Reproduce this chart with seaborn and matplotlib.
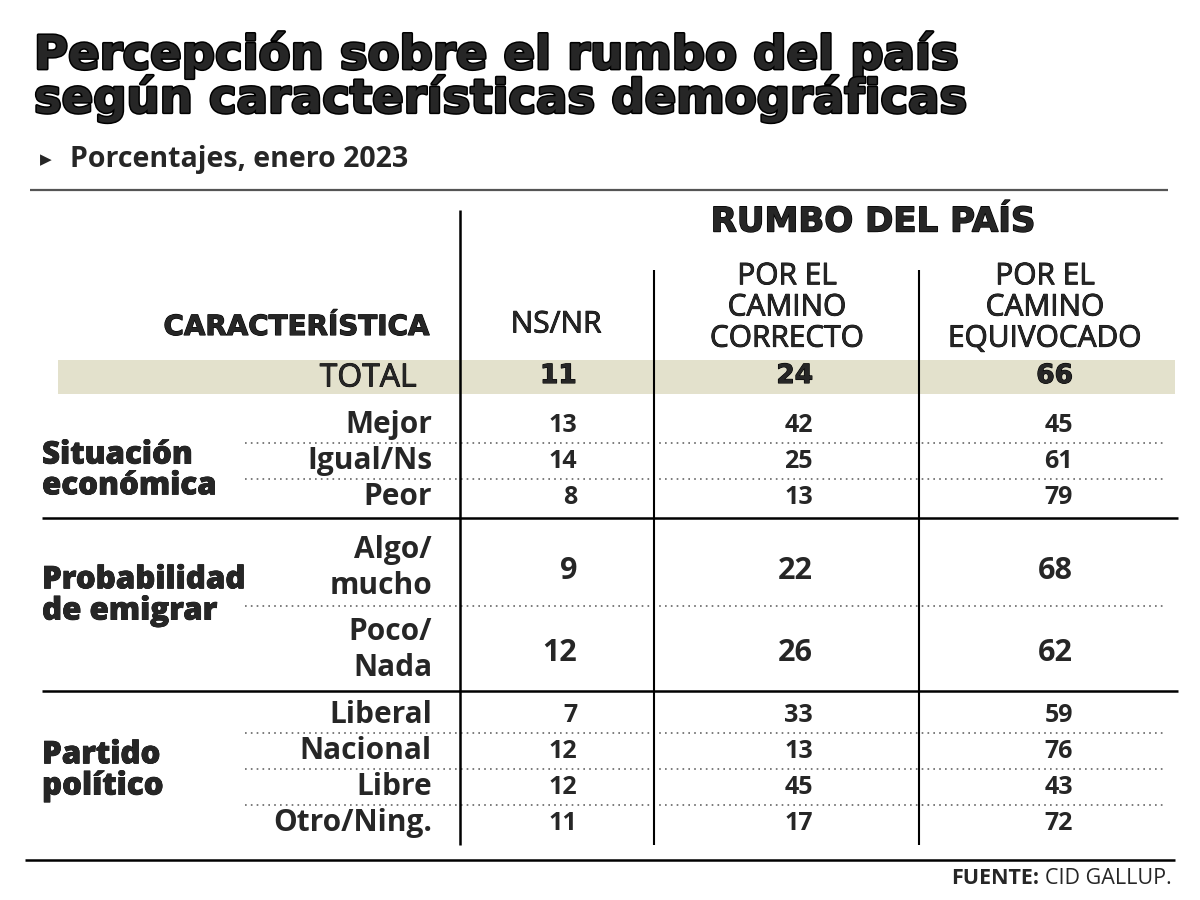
import numpy as np
import matplotlib.pyplot as plt
import matplotlib.patheffects as pe
import seaborn as sns

sns.set_theme(style="white")
plt.rcParams['font.family'] = ['Open Sans', 'DejaVu Sans']

# Data
title = "Percepción sobre el rumbo del país\nsegún características demográficas"
subtitle = "Porcentajes, enero 2023"
columns = ["NS/NR", "POR EL\nCAMINO\nCORRECTO", "POR EL\nCAMINO\nEQUIVOCADO"]
total = [11, 24, 66]
groups = ["Situación\neconómica", "Probabilidad\nde emigrar", "Partido\npolítico"]
rows = [["Mejor", "Igual/Ns", "Peor"],
        ["Algo/\nmucho", "Poco/\nNada"],
        ["Liberal", "Nacional", "Libre", "Otro/Ning."]]
ns_nr = [[13, 14, 8], [9, 12], [7, 12, 12, 11]]
correcto = [[42, 25, 13], [22, 26], [33, 13, 45, 17]]
equivocado = [[45, 61, 79], [68, 62], [59, 76, 43, 72]]

# Layout (pixels, y down)
col_right = [577, 813, 1073]
label_x = 432
row_h = [36, 82, 36]
group_dy = [10, -10, 2]
band_color = "#e3e1cc"
heavy = ["DejaVu Sans"]


def stroke(w):
    return [pe.withStroke(linewidth=w, foreground="black")]


fig = plt.figure(figsize=(12, 9), dpi=100)
ax = fig.add_axes([0, 0, 1, 1])
ax.set_xlim(0, 1200)
ax.set_ylim(900, 0)
ax.axis("off")

# title and subtitle
ax.text(34, 77, title, fontsize=33.5, fontweight="bold", family=heavy,
        va="center", ha="left", linespacing=0.9, path_effects=stroke(2.2))
ax.text(40, 160, "▶", fontsize=11, va="center", ha="left", family=["DejaVu Sans"])
ax.text(70, 159, subtitle, fontsize=20.5, fontweight="bold", va="center", ha="left")
ax.hlines(190, 30, 1168, color="#555555", lw=1.6)

# header
ax.text(873, 222, "RUMBO DEL PAÍS", fontsize=24.5, fontweight="bold", family=heavy,
        ha="center", va="center", path_effects=stroke(1.0))
ax.text(429, 327, "CARACTERÍSTICA", fontsize=20, fontweight="bold", family=heavy,
        ha="right", va="center", path_effects=stroke(0.8))
ax.text(556, 325, columns[0], fontsize=21.5, ha="center", va="center", path_effects=stroke(0.6))
ax.text(787, 308, columns[1], fontsize=21.5, ha="center", va="center",
        linespacing=1.1, path_effects=stroke(0.6))
ax.text(1045, 308, columns[2], fontsize=21.5, ha="center", va="center",
        linespacing=1.1, path_effects=stroke(0.6))

# total band
ax.axhspan(360, 394, xmin=58 / 1200, xmax=1175 / 1200, color=band_color, lw=0)
ax.text(417, 378, "TOTAL", fontsize=23, ha="right", va="center", path_effects=stroke(0.6))
for x, v in zip(col_right, total):
    ax.text(x, 376, str(v), fontsize=19, fontweight="bold", family=heavy, ha="right", va="center",
            path_effects=stroke(0.8))

# body
y = 407
for g, (gname, labels) in enumerate(zip(groups, rows)):
    start = y
    h = row_h[g]
    for i, lab in enumerate(labels):
        cy = y + h / 2
        ax.text(label_x, cy + (3 if h > 50 else 0), lab, fontsize=21.5, fontweight="bold",
                ha="right", va="center", linespacing=1.28)
        vals = [ns_nr[g][i], correcto[g][i], equivocado[g][i]]
        fs = 22 if h > 50 else 18
        for x, v in zip(col_right, vals):
            ax.text(x, cy + (6 if h > 50 else 0), str(v), fontsize=fs, fontweight="bold",
                    ha="right", va="center")
        y += h
        if i < len(labels) - 1:
            ax.hlines(y, 245, 1165, color="#666666", lw=1.2, linestyles=(0, (1, 2.5)))
    ax.text(42, (start + y) / 2 + group_dy[g], gname, fontsize=22.5, fontweight="heavy",
            ha="left", va="center", linespacing=0.95, path_effects=stroke(0.5))
    if g < len(groups) - 1:
        y += 3
        ax.hlines(y, 42, 1178, color="black", lw=1.8)
        y += 6

# vertical rules
ax.vlines(460, 210, 845, color="black", lw=1.8)
ax.vlines([654, 919], 270, 845, color="black", lw=1.5)
ax.hlines(860, 25, 1175, color="black", lw=1.8)

# source
src = ax.text(1172, 878, "CID GALLUP.", fontsize=15.5, ha="right", va="center")
fig.canvas.draw()
bb = src.get_window_extent()
left = ax.transData.inverted().transform((bb.x0, bb.y0))[0]
ax.text(left - 6, 878, "FUENTE:", fontsize=15.5, fontweight="bold", ha="right", va="center")

fig.savefig("out.png", dpi=100, facecolor="white")
